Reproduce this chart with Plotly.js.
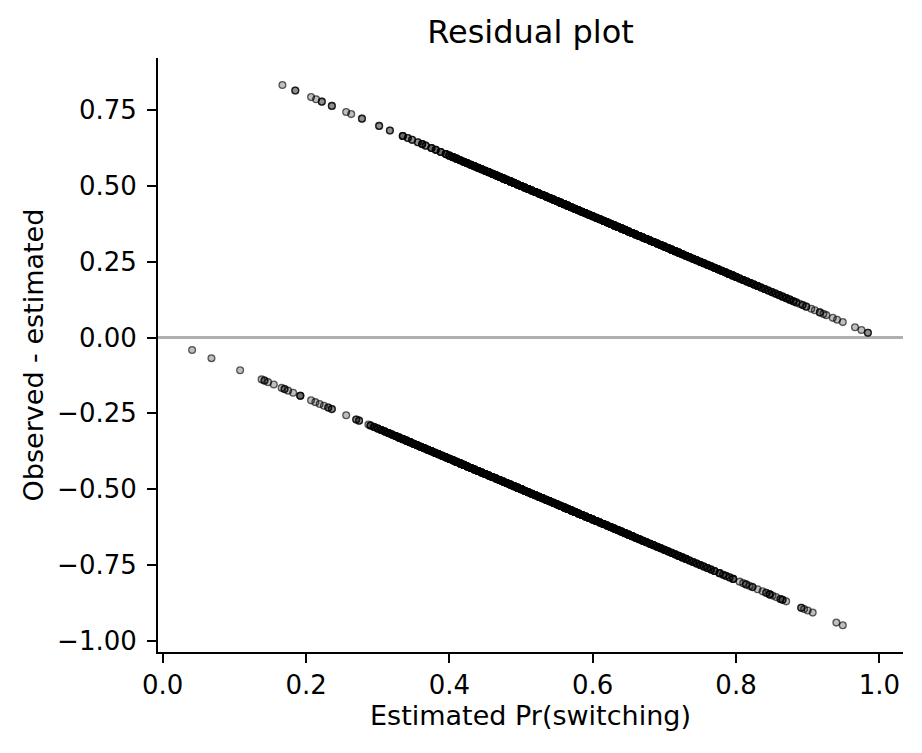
<!DOCTYPE html>
<html>
<head>
<meta charset="utf-8">
<script src="https://cdn.plot.ly/plotly-3.0.1.min.js"></script>
<style>
  html, body { margin: 0; padding: 0; background: #fff; overflow: hidden; }
  #chart { width: 922px; height: 753px; }
</style>
</head>
<body>
<div id="chart"></div>
<script>
// Estimated Pr(switching) for households that switched (observed = 1),
// with how many households share each estimate.
const switchedEst = [
  0.167, 0.185, 0.207, 0.214, 0.222, 0.236, 0.256, 0.263, 0.278, 0.302, 0.317, 0.335,
  0.342, 0.348, 0.356, 0.362, 0.367, 0.375, 0.381, 0.388,
  0.395, 0.400, 0.405, 0.410, 0.415, 0.420, 0.425, 0.430, 0.435, 0.440, 0.445, 0.450,
  0.455, 0.460, 0.465, 0.470, 0.475, 0.480, 0.485, 0.490, 0.495, 0.500, 0.505, 0.510,
  0.515, 0.520, 0.525, 0.530, 0.535, 0.540, 0.545, 0.550, 0.555, 0.560, 0.565, 0.570,
  0.575, 0.580, 0.585, 0.590, 0.595, 0.600, 0.605, 0.610, 0.615, 0.620, 0.625, 0.630,
  0.635, 0.640, 0.645, 0.650, 0.655, 0.660, 0.665, 0.670, 0.675, 0.680, 0.685, 0.690,
  0.695, 0.700, 0.705, 0.710, 0.715, 0.720, 0.725, 0.730, 0.735, 0.740, 0.745, 0.750,
  0.755, 0.760, 0.765, 0.770, 0.775, 0.780, 0.785, 0.790, 0.795, 0.800, 0.805, 0.810,
  0.815, 0.820, 0.825, 0.830, 0.835, 0.840, 0.845, 0.850, 0.855, 0.860, 0.865, 0.870,
  0.875, 0.880, 0.884, 0.889, 0.893, 0.898, 0.905, 0.910, 0.917, 0.922, 0.926, 0.935,
  0.941, 0.949, 0.966, 0.975, 0.984
];
const switchedCount = [
  1, 2, 1, 1, 2, 2, 1, 1, 2, 2, 2, 3,
  2, 2, 2, 3, 2, 3, 3, 3,
  4, 4, 5, 5, 5, 6, 6, 6, 7, 7, 7, 7,
  8, 8, 8, 8, 8, 8, 8, 8, 8, 8, 8, 8,
  8, 8, 8, 8, 8, 8, 8, 8, 8, 8, 8, 8,
  8, 8, 8, 8, 8, 8, 8, 8, 8, 8, 8, 8,
  8, 8, 8, 8, 8, 8, 8, 8, 8, 8, 7, 7,
  7, 7, 7, 7, 7, 7, 6, 6, 6, 6, 6, 6,
  6, 6, 5, 5, 5, 5, 5, 5, 5, 4, 4, 4,
  4, 4, 4, 4, 3, 3, 3, 3, 3, 3, 3, 3,
  3, 3, 2, 1, 2, 2, 1, 1, 2, 1, 1, 1,
  1, 1, 1, 1, 2
];

// Estimated Pr(switching) for households that did not switch (observed = 0).
const stayedEst = [
  0.041, 0.068, 0.108, 0.138, 0.142, 0.147, 0.155, 0.166, 0.170, 0.175, 0.182, 0.192,
  0.207, 0.213, 0.219, 0.225, 0.231, 0.236, 0.256, 0.270, 0.274, 0.287,
  0.290, 0.295, 0.300, 0.305, 0.310, 0.315, 0.320, 0.325, 0.330, 0.335, 0.340, 0.345,
  0.350, 0.355, 0.360, 0.365, 0.370, 0.375, 0.380, 0.385, 0.390, 0.395, 0.400, 0.405,
  0.410, 0.415, 0.420, 0.425, 0.430, 0.435, 0.440, 0.445, 0.450, 0.455, 0.460, 0.465,
  0.470, 0.475, 0.480, 0.485, 0.490, 0.495, 0.500, 0.505, 0.510, 0.515, 0.520, 0.525,
  0.530, 0.535, 0.540, 0.545, 0.550, 0.555, 0.560, 0.565, 0.570, 0.575, 0.580, 0.585,
  0.590, 0.595, 0.600, 0.605, 0.610, 0.615, 0.620, 0.625, 0.630, 0.635, 0.640, 0.645,
  0.650, 0.655, 0.660, 0.665, 0.670, 0.675, 0.680, 0.685, 0.690, 0.695, 0.700, 0.705,
  0.710, 0.715, 0.720, 0.725, 0.730, 0.735, 0.740, 0.745, 0.750, 0.755, 0.760, 0.765,
  0.770, 0.777, 0.782, 0.786, 0.791, 0.796, 0.805, 0.810, 0.814, 0.819, 0.823, 0.830,
  0.837, 0.842, 0.847, 0.851, 0.856, 0.862, 0.865, 0.870, 0.891, 0.895, 0.900, 0.907,
  0.940, 0.949
];
const stayedCount = [
  1, 1, 1, 1, 2, 1, 1, 1, 2, 1, 1, 3,
  1, 1, 1, 1, 2, 2, 1, 2, 2, 1,
  3, 3, 4, 4, 5, 5, 5, 6, 6, 6, 6, 7,
  7, 7, 7, 7, 8, 8, 8, 8, 8, 8, 8, 8,
  8, 8, 8, 8, 8, 8, 8, 8, 8, 8, 8, 8,
  8, 8, 8, 8, 8, 8, 8, 8, 8, 8, 8, 8,
  8, 8, 8, 8, 8, 8, 8, 8, 8, 8, 8, 8,
  8, 8, 8, 8, 7, 7, 7, 7, 7, 7, 7, 6,
  6, 6, 6, 6, 6, 5, 5, 5, 5, 5, 5, 4,
  4, 4, 4, 4, 4, 3, 3, 3, 3, 3, 3, 3,
  3, 3, 2, 2, 2, 3, 1, 1, 2, 1, 2, 1,
  1, 2, 3, 1, 1, 2, 2, 1, 2, 1, 1, 1,
  1, 1
];

const yTickVals = [-1.0, -0.75, -0.5, -0.25, 0.0, 0.25, 0.5, 0.75];
const yTickText = ['\u22121.00', '\u22120.75', '\u22120.50', '\u22120.25', '0.00', '0.25', '0.50', '0.75'];
const xTickVals = [0.0, 0.2, 0.4, 0.6, 0.8, 1.0];
const xTickText = ['0.0', '0.2', '0.4', '0.6', '0.8', '1.0'];

// residual = observed - estimated, one marker per household
function residualPoints(est, counts, observed) {
  const xs = [], ys = [];
  est.forEach((p, i) => {
    for (let k = 0; k < counts[i]; k++) {
      xs.push(p);
      ys.push(observed - p);
    }
  });
  return { xs, ys };
}

const sw = residualPoints(switchedEst, switchedCount, 1);
const st = residualPoints(stayedEst, stayedCount, 0);
const xs = sw.xs.concat(st.xs);
const ys = sw.ys.concat(st.ys);

const FONT = 'DejaVu Sans, Verdana, sans-serif';
const TICK_SIZE = 26;
const LABEL_SIZE = 27;

const trace = {
  type: 'scatter',
  mode: 'markers',
  x: xs,
  y: ys,
  hoverinfo: 'skip',
  marker: {
    symbol: 'circle',
    size: 6.8,
    color: 'rgba(0,0,0,0.25)',
    line: { color: 'rgba(0,0,0,0.62)', width: 1.3 }
  }
};

const layout = {
  width: 922,
  height: 753,
  margin: { l: 158, r: 19, t: 58, b: 101 },
  paper_bgcolor: '#fff',
  plot_bgcolor: '#fff',
  showlegend: false,
  font: { family: FONT, size: TICK_SIZE, color: '#000' },
  title: {
    text: 'Residual plot',
    font: { family: FONT, size: 32, color: '#000' },
    x: 0.5, xref: 'paper', xanchor: 'center',
    y: 1 - 32 / 753, yref: 'container', yanchor: 'middle'
  },
  xaxis: {
    range: [-0.0066, 1.033],
    tickvals: xTickVals,
    ticktext: xTickText,
    ticks: 'outside', ticklen: 9, tickwidth: 2, tickcolor: '#000',
    showline: true, linecolor: '#000', linewidth: 2,
    showgrid: false, zeroline: false,
    tickfont: { family: FONT, size: TICK_SIZE, color: '#000' },
    ticklabelstandoff: 0,
    title: { text: 'Estimated Pr(switching)', font: { family: FONT, size: LABEL_SIZE, color: '#000' }, standoff: 7 }
  },
  yaxis: {
    range: [-1.037, 0.922],
    tickvals: yTickVals,
    ticktext: yTickText,
    ticks: 'outside', ticklen: 9, tickwidth: 2, tickcolor: '#000',
    showline: true, linecolor: '#000', linewidth: 2,
    showgrid: false,
    zeroline: true, zerolinecolor: '#b0b0b0', zerolinewidth: 2.2,
    tickfont: { family: FONT, size: TICK_SIZE, color: '#000' },
    ticklabelstandoff: 5,
    title: { text: 'Observed - estimated', font: { family: FONT, size: LABEL_SIZE, color: '#000' }, standoff: 6 }
  }
};

Plotly.newPlot('chart', [trace], layout, { displayModeBar: false, staticPlot: true });
</script>
</body>
</html>
